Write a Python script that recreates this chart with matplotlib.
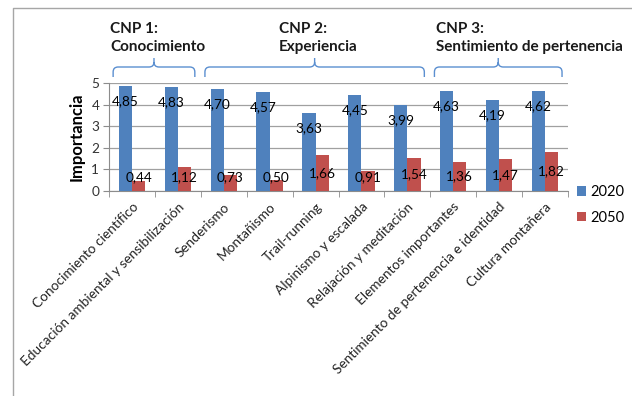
import matplotlib
matplotlib.use("Agg")
import matplotlib.pyplot as plt
from matplotlib.path import Path
from matplotlib.patches import PathPatch
import numpy as np

categories = ["Conocimiento científico", "Educación ambiental y sensibilización",
              "Senderismo", "Montañismo", "Trail-running", "Alpinismo y escalada",
              "Relajación y meditación", "Elementos importantes",
              "Sentimiento de pertenencia e identidad", "Cultura montañera"]
v2020 = [4.85, 4.83, 4.70, 4.57, 3.63, 4.45, 3.99, 4.63, 4.19, 4.62]
v2050 = [0.44, 1.12, 0.73, 0.50, 1.66, 0.91, 1.54, 1.36, 1.47, 1.82]
series_names = ["2020", "2050"]
groups = [("CNP 1:\nConocimiento", 0, 1),
          ("CNP 2:\nExperiencia", 2, 6),
          ("CNP 3:\nSentimiento de pertenencia", 7, 9)]
yticks = [0, 1, 2, 3, 4, 5]

plt.rcParams['font.family'] = ['Lato', 'DejaVu Sans']

W, H = 632, 396
fig = plt.figure(figsize=(W/100, H/100), dpi=100)

ov = fig.add_axes([0, 0, 1, 1])
ov.set_xlim(0, W)
ov.set_ylim(H, 0)
ov.axis('off')
ov.plot([12.5, 12.5, W], [H, 7.5, 7.5], color='#a6a6a6', lw=1.0)

x0, x1, ytop, ybot = 109, 568, 83, 191
ax = fig.add_axes([x0/W, 1-ybot/H, (x1-x0)/W, (ybot-ytop)/H])
x = np.arange(len(categories))
bw = 0.288
blue, red = '#4F81BD', '#C0504D'
fs = 9.8
ax.bar(x - bw/2, v2020, bw, color=blue, label=series_names[0], zorder=3)
ax.bar(x + bw/2, v2050, bw, color=red, label=series_names[1], zorder=3)
ax.set_xlim(-0.5, len(categories)-0.5)
ax.set_ylim(0, 5)
ax.set_yticks(yticks)
ax.set_yticklabels([str(t) for t in yticks], fontsize=fs, color='#333333')
ax.grid(axis='y', color='#a0a0a0', lw=0.9, zorder=0)
for s in ['top', 'right']:
    ax.spines[s].set_visible(False)
for s in ['left', 'bottom']:
    ax.spines[s].set_color('#8c8c8c')
ax.tick_params(axis='y', length=4, color='#8c8c8c', pad=3)
ax.set_xticks(x)
ax.set_xticklabels(categories, rotation=45, ha='right', rotation_mode='anchor',
                   fontsize=fs, color='#222222')
ax.tick_params(axis='x', which='major', length=0, pad=7)
ax.set_xticks(np.arange(-0.5, len(categories), 1), minor=True)
ax.tick_params(axis='x', which='minor', length=4, color='#8c8c8c')
ax.set_ylabel("Importancia", fontsize=12, fontweight='bold', labelpad=5)

def fmt(v):
    return f"{v:.2f}".replace('.', ',')

for i, v in enumerate(v2020):
    ax.text(i - bw/2, v - 0.7, fmt(v), ha='center', va='center', fontsize=fs, zorder=5)
for i, v in enumerate(v2050):
    ax.text(i + bw/2, max(v/2, 0.64), fmt(v), ha='center', va='center', fontsize=fs, zorder=5)

ax.legend(loc='center left', bbox_to_anchor=(1.0, -0.13), frameon=False, fontsize=10.5,
          handlelength=0.6, handleheight=0.6, handletextpad=0.3, labelspacing=0.8,
          borderaxespad=0.2)

def px_of(xd):
    return x0 + (xd + 0.5) * (x1 - x0) / len(categories)

def brace(xa, xb, yb=77, yh=67, yt=58, r=5, color='#5b8fd0'):
    xm = (xa + xb) / 2
    verts = [(xa, yb), (xa, yh + r), (xa, yh), (xa + r, yh),
             (xm - r, yh), (xm, yh), (xm, yh - r), (xm, yt),
             (xm, yh - r), (xm, yh), (xm + r, yh),
             (xb - r, yh), (xb, yh), (xb, yh + r), (xb, yb)]
    codes = [Path.MOVETO, Path.LINETO, Path.CURVE3, Path.CURVE3,
             Path.LINETO, Path.CURVE3, Path.CURVE3, Path.LINETO,
             Path.MOVETO, Path.CURVE3, Path.CURVE3,
             Path.LINETO, Path.CURVE3, Path.CURVE3, Path.LINETO]
    ov.add_patch(PathPatch(Path(verts, codes), fill=False, edgecolor=color, lw=1.0))

text_offsets = [-3, 74, 2]
for (label, a, b), off in zip(groups, text_offsets):
    xa = px_of(a - 0.41)
    xb = px_of(b + 0.37)
    brace(xa, xb)
    ov.text(xa + off, 38, label, ha='left', va='center', fontsize=11, fontweight='bold',
            linespacing=1.4, color='#1a1a1a')

fig.savefig("out.png", dpi=100)
